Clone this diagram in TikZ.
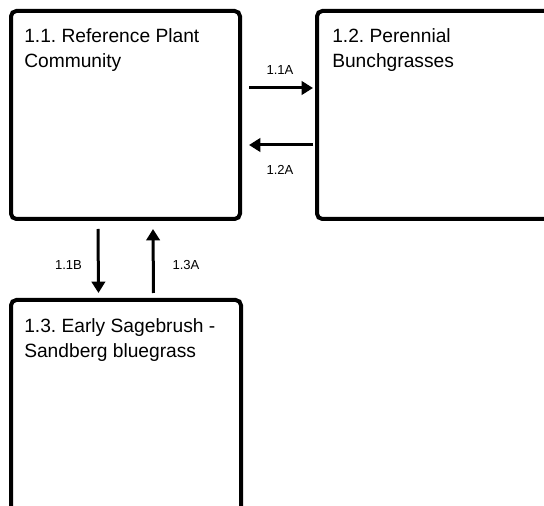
\documentclass[tikz,border=0pt]{standalone}
\usepackage{fontspec}
\setmainfont{Liberation Sans}
\usetikzlibrary{arrows.meta,fit}
\frenchspacing
\tikzset{
  statebox/.style={draw=black, line width=3pt, rounded corners=4pt, inner sep=0pt, fill=white},
  boxtext/.style={anchor=north west, inner sep=0pt, align=left, font=\fontsize{14.4pt}{18.75pt}\selectfont},
  arr/.style={line width=2.25pt, -{Triangle[length=8.5pt,width=10pt]}},
  lbl/.style={inner sep=0pt, font=\fontsize{9.8pt}{11pt}\selectfont}
}
\begin{document}
\begin{tikzpicture}[x=0.75pt,y=-0.75pt]
\useasboundingbox (0,0) rectangle (544,506);
\clip (0,0) rectangle (544,506);
\node[statebox, fit={(11,11) (240,219)}] (b1) {};
\node[statebox, fit={(317,11) (580,219)}] (b2) {};
\node[statebox, fit={(11,300) (241,560)}] (b3) {};
\node[boxtext] (t1) at (24,28) {1.1. Reference Plant\\Community};
\node[boxtext] (t2) at (332,28) {1.2. Perennial\\Bunchgrasses};
\node[boxtext] (t3) at (24,318) {1.3. Early Sagebrush -\\Sandberg bluegrass};
\draw[arr] ([shift={(7,-27)}]b1.east) -- ([shift={(-2,-27)}]b2.west);
\draw[arr] ([shift={(-2,30)}]b2.west) -- ([shift={(7,30)}]b1.east);
\draw[arr] ([shift={(-27.5,8)}]b1.south) -- ([shift={(-27.5,-5)}]b3.north);
\draw[arr] ([shift={(27.5,-5)}]b3.north) -- ([shift={(27.5,8)}]b1.south);
\node[lbl] (l1) at (280,70) {1.1A};
\node[lbl] (l2) at (280,170) {1.2A};
\node[lbl] (l3) at (68.5,265) {1.1B};
\node[lbl] (l4) at (186,265) {1.3A};
\end{tikzpicture}
\end{document}
